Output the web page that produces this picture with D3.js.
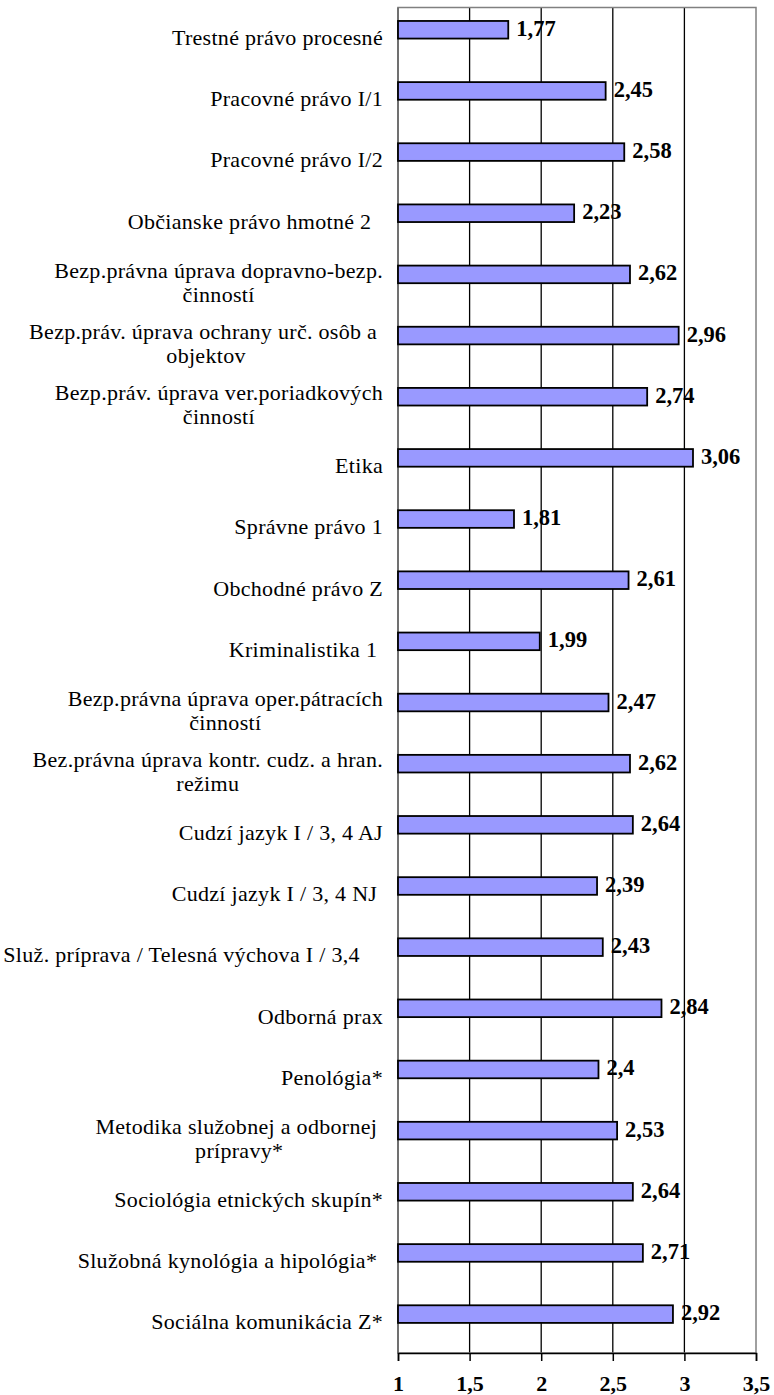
<!DOCTYPE html>
<html>
<head>
<meta charset="utf-8">
<script src="https://cdn.jsdelivr.net/npm/d3@7"></script>
<style>
  body { margin: 0; background: #fff; }
  svg text { font-family: "Liberation Serif", "Times New Roman", serif; }
</style>
</head>
<body>
<div id="chart"></div>
<script>
// categories, top to bottom ("\n" = line break in the label)
var categories = [
	"Trestné právo procesné",
	"Pracovné právo I/1",
	"Pracovné právo I/2",
	"Občianske právo hmotné 2  ",
	"Bezp.právna úprava dopravno-bezp.\nčinností",
	"Bezp.práv. úprava ochrany urč. osôb a \nobjektov",
	"Bezp.práv. úprava ver.poriadkových\nčinností",
	"Etika",
	"Správne právo 1",
	"Obchodné právo Z",
	"Kriminalistika 1 ",
	"Bezp.právna úprava oper.pátracích\nčinností",
	"Bez.právna úprava kontr. cudz. a hran.\nrežimu",
	"Cudzí jazyk I / 3, 4 AJ",
	"Cudzí jazyk I / 3, 4 NJ ",
	"Služ. príprava / Telesná výchova I / 3,4    ",
	"Odborná prax",
	"Penológia*",
	"Metodika služobnej a odbornej \nprípravy*",
	"Sociológia etnických skupín*",
	"Služobná kynológia a hipológia* ",
	"Sociálna komunikácia Z*"
];
var values = [1.77, 2.45, 2.58, 2.23, 2.62, 2.96, 2.74, 3.06, 1.81, 2.61, 1.99,
	2.47, 2.62, 2.64, 2.39, 2.43, 2.84, 2.4, 2.53, 2.64, 2.71, 2.92];
var xTicks = [1, 1.5, 2, 2.5, 3, 3.5];

var width = 774, height = 1395;
var margin = {left: 398, right: 18, top: 7.5, bottom: 42};
var labelRight = 383;

var svg = d3.select("#chart").append("svg")
	.attr("width", width)
	.attr("height", height);

var x = d3.scaleLinear()
	.domain([1, 3.5])
	.range([margin.left, width - margin.right]);

var y = d3.scaleBand()
	.domain(d3.range(categories.length))
	.range([margin.top, height - margin.bottom])
	.padding(0);

var bw = y.bandwidth();
var fmt = function(v) { return String(v).replace(".", ","); };

// gridlines
svg.append("g").selectAll("line")
	.data(xTicks.slice(1, -1))
	.enter().append("line")
	.attr("x1", function(d) { return x(d); })
	.attr("x2", function(d) { return x(d); })
	.attr("y1", margin.top)
	.attr("y2", height - margin.bottom)
	.attr("stroke", "#000")
	.attr("stroke-width", 1.3);

// plot frame
svg.append("rect")
	.attr("x", x(1))
	.attr("y", margin.top)
	.attr("width", x(3.5) - x(1))
	.attr("height", height - margin.bottom - margin.top)
	.attr("fill", "none")
	.attr("stroke", "#808080")
	.attr("stroke-width", 1.5);

svg.append("line")
	.attr("x1", x(1)).attr("x2", x(1))
	.attr("y1", margin.top).attr("y2", height - margin.bottom)
	.attr("stroke", "#707070")
	.attr("stroke-width", 2);

// bars
var bars = svg.append("g").selectAll("g.bar")
	.data(values)
	.enter().append("g")
	.attr("class", "bar");

bars.append("rect")
	.attr("x", x(1))
	.attr("y", function(d, i) { return y(i) + bw * 0.22; })
	.attr("width", function(d) { return x(d) - x(1); })
	.attr("height", bw * 0.288)
	.attr("fill", "#9999ff")
	.attr("stroke", "#000")
	.attr("stroke-width", 1.8);

bars.append("text")
	.text(function(d) { return fmt(d); })
	.attr("x", function(d) { return x(d) + 8; })
	.attr("y", function(d, i) { return y(i) + bw * 0.22 + bw * 0.144 + 6; })
	.attr("font-size", "22.5px")
	.attr("font-weight", "bold")
	.attr("fill", "#000");

// category labels
svg.append("g").selectAll("g.cat")
	.data(categories)
	.enter().append("g")
	.attr("class", "cat")
	.each(function(d, i) {
		var g = d3.select(this);
		var lines = d.split("\n");
		var cy = y(i) + bw / 2;
		var lh = 24;
		var base = cy + 7 - (lines.length - 1) * lh / 2;
		var texts = lines.map(function(s, k) {
			return g.append("text")
				.text(s)
				.attr("y", base + k * lh)
				.attr("font-size", "22px")
				.attr("letter-spacing", "0.3px")
				.attr("fill", "#000")
				.style("white-space", "pre");
		});
		if (lines.length == 1) {
			texts[0].attr("x", labelRight).attr("text-anchor", "end");
		} else {
			var maxW = d3.max(texts, function(t) { return t.node().getComputedTextLength(); });
			texts.forEach(function(t) {
				t.attr("x", labelRight - maxW / 2).attr("text-anchor", "middle");
			});
		}
	});

// bottom axis
var axis = svg.append("g")
	.attr("transform", "translate(0," + (height - margin.bottom) + ")")
	.call(d3.axisBottom(x).tickValues(xTicks).tickSize(8).tickFormat(fmt));

axis.select(".domain").attr("stroke", "#000").attr("stroke-width", 1.5);
axis.selectAll(".tick line").attr("stroke", "#000").attr("stroke-width", 1.5);
axis.selectAll(".tick text")
	.attr("y", 38)
	.attr("dy", 0)
	.attr("font-size", "22px")
	.attr("font-weight", "bold")
	.attr("font-family", "Liberation Serif, Times New Roman, serif")
	.attr("fill", "#000");
</script>
</body>
</html>
